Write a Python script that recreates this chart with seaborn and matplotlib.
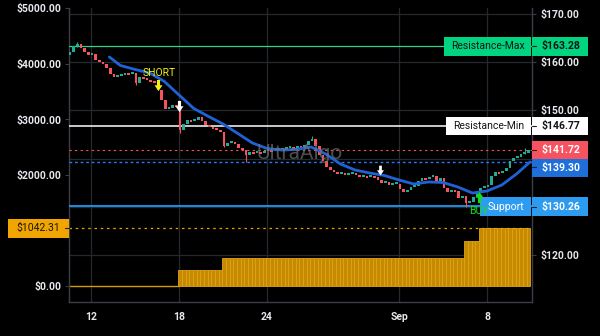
import numpy as np
import pandas as pd
import matplotlib
matplotlib.use("Agg")
import matplotlib.pyplot as plt
import matplotlib.transforms as mtransforms
from matplotlib.patches import Rectangle
from matplotlib.lines import Line2D
from matplotlib.path import Path
import seaborn as sns

# ---------------- data ----------------
candle_start_day = 10.57
candle_step_day = 0.25
first_open = 161.5
closes = [
    162.12, 163.36, 163.78, 162.95, 162.12, 161.49, 161.60, 160.46, 160.04, 159.63,
    158.80, 157.55, 156.93, 157.14, 157.34, 157.76, 157.55, 157.76, 155.68, 156.93,
    156.72, 156.31, 156.10, 155.68, 154.23, 152.16, 150.29, 150.50, 151.12, 150.91,
    145.93, 147.18, 148.01, 147.80, 148.01, 148.63, 147.80, 146.97, 146.56, 146.35,
    145.93, 145.52, 142.61, 143.24, 143.40, 143.03, 142.20, 141.78, 140.75, 141.37,
    141.16, 141.37, 141.16, 141.58, 141.78, 141.60, 142.20, 141.78, 141.99, 142.20,
    142.41, 142.30, 142.61, 142.50, 142.82, 143.65, 144.07, 142.61, 140.75, 139.50,
    138.26, 137.63, 137.22, 136.80, 137.01, 136.60, 136.80, 137.01, 136.60, 136.18,
    136.39, 136.18, 136.39, 136.18, 135.56, 134.94, 135.10, 134.52, 134.70, 134.73,
    133.69, 133.07, 133.49, 134.11, 134.32, 135.35, 135.98, 135.80, 136.18, 136.39,
    135.35, 135.98, 133.90, 133.07, 133.49, 133.28, 131.83, 132.24, 130.79, 131.00,
    132.03, 133.07, 133.90, 134.11, 134.52, 136.39, 137.22, 137.00, 137.43, 138.05,
    139.50, 140.12, 140.33, 140.95, 141.16, 141.72,
]
# notable wicks: candle index, low, high
wick_idx = [2, 18, 30, 42, 48, 66, 108, 124]
wick_low = [163.2, 155.3, 145.3, 142.4, 139.3, 143.8, 130.0, 140.9]
wick_high = [164.1, 157.0, 150.8, 145.6, 141.6, 144.6, 131.3, 142.1]

ma_days = [13.25, 14, 15, 16, 17, 18, 19, 20, 21, 22, 23, 24, 25, 26, 27, 28, 29,
           30, 31, 32, 33, 34, 35, 36, 37, 38, 39, 40, 41, 41.93]
ma_vals = [161.08, 159.32, 158.49, 157.76, 156.00, 153.20, 150.41, 148.75, 147.18,
           145.22, 143.24, 142.10, 141.78, 141.89, 142.41, 140.95, 138.88, 137.63,
           137.01, 136.49, 135.56, 134.73, 135.15, 135.04, 134.11, 132.86, 133.28,
           134.52, 136.80, 139.30]

equity_step_days = [10.5, 18.0, 21.0, 37.57, 38.52]
equity_step_vals = [0.0, 292.0, 508.0, 813.0, 1042.31]
equity_last = 1042.31

resistance_max = 163.28
resistance_min = 146.77
last_price = 141.72
ma_last = 139.30
support = 130.26

xtick_pos = [12, 18, 24, 33, 39]
xtick_labels = ["12", "18", "24", "Sep", "8"]
right_ticks = [120, 130, 140, 150, 160, 170]
left_ticks = [0, 1000, 2000, 3000, 4000, 5000]

short_day, short_price = 16.57, 155.27
exit1_day, exit1_price = 18.0, 150.92
exit2_day, exit2_price = 31.70, 137.53
buy_day, buy_price = 38.45, 131.93

# ---------------- style ----------------
BG = "#000000"
GRID = "#26282f"
SPINE = "#3a3d47"
TXT = "#e6e8ee"
UP = "#22ab94"
DOWN = "#f7525f"

sns.set_style("dark", rc={"axes.facecolor": BG, "figure.facecolor": BG,
                          "grid.color": GRID, "axes.edgecolor": SPINE})
plt.rcParams["font.family"] = ["Roboto", "DejaVu Sans"]

fig = plt.figure(figsize=(6.0, 3.36), dpi=100)
fig.patch.set_facecolor(BG)
W, H = 600.0, 336.0
ax = fig.add_axes([69 / W, (H - 302) / H, (532 - 69) / W, (302 - 8) / H])
ax.set_facecolor(BG)
ax2 = ax.twinx()
ax2.patch.set_visible(False)

XMIN, XMAX = 10.5, 42.06
R0, R1 = 110.25, 171.24
ax.set_xlim(XMIN, XMAX)
ax.set_ylim(-282, 5005)
ax2.set_ylim(R0, R1)

# ---- grid (drawn on the lower axes so the equity bars cover it) ----
for v in right_ticks:
    f = (v - R0) / (R1 - R0)
    ax.plot([0, 1], [f, f], transform=ax.transAxes, color=GRID, lw=0.9, zorder=0.5)

# ---- equity bars (left axis) ----
n = len(closes)
days = np.array([candle_start_day + candle_step_day * i for i in range(n)])
idx = np.searchsorted(equity_step_days, days, side="right") - 1
eq = np.array(equity_step_vals)[np.clip(idx, 0, None)]
mask = eq > 0
ax.bar(days[mask], eq[mask], width=candle_step_day, color="#c68a00",
       edgecolor="#e2a317", linewidth=0.6, zorder=2)
ax.hlines(0, XMIN, equity_step_days[1], color="#d99a00", lw=1.0, zorder=2)
ax.axhline(equity_last, color="#e6a100", lw=0.9, ls=(0, (2, 3)), zorder=2)

# ---- candles (right axis) ----
opens = np.array([first_open] + closes[:-1])
cl = np.array(closes)
body = cl - opens
hgt = np.where(np.abs(body) < 0.35, np.where(body >= 0, 0.35, -0.35), body)
cols = np.where(body >= 0, UP, DOWN)
wd = days[wick_idx]
ax2.vlines(wd, wick_low, wick_high, colors=cols[wick_idx], lw=0.8, zorder=4)
ax2.bar(days, hgt, bottom=opens, width=candle_step_day * 0.72, color=cols,
        linewidth=0, zorder=4)

# ---- moving average ----
sns.lineplot(x=ma_days, y=ma_vals, ax=ax2, color="#1f62d6", lw=2.0, zorder=5,
             sort=False)

# ---- levels ----
ax2.axhline(resistance_max, color="#2fd584", lw=0.9, zorder=3)
ax2.axhline(resistance_min, color="#ffffff", lw=1.1, zorder=3)
ax2.axhline(support, color="#2196f3", lw=1.3, zorder=3)
ax2.axhline(last_price, color=DOWN, lw=0.8, ls=(0, (2, 3)), zorder=3)
ax2.axhline(ma_last, color="#2979ff", lw=1.0, ls=(0, (2, 2)), zorder=3)

# ---- ticks ----
ax.set_xticks(xtick_pos)
ax.set_xticklabels(xtick_labels)
ax.grid(axis="x", color=GRID, lw=0.9)
ax.grid(axis="y", visible=False)
ax2.set_yticks(right_ticks)
ax2.set_yticklabels(["$%.2f" % v if v not in (130, 140) else "" for v in right_ticks])
ax2.grid(False)
ax.set_yticks(left_ticks)
ax.set_yticklabels(["$%.2f" % v if v != 1000 else "" for v in left_ticks])
ax.set_axisbelow(True)

for a in (ax, ax2):
    a.spines["top"].set_visible(False)
    for s in ("left", "right", "bottom"):
        a.spines[s].set_color(SPINE)
        a.spines[s].set_linewidth(0.9)
ax.tick_params(axis="x", colors=SPINE, labelcolor=TXT, length=3, pad=4, labelsize=7.5)
ax.tick_params(axis="y", colors=SPINE, labelcolor=TXT, length=3, pad=2.6,
               labelsize=7.5, left=True)
ax2.tick_params(axis="y", colors=SPINE, labelcolor=TXT, length=3, pad=3.3,
                labelsize=7.5, right=True)
for lab in ax.get_xticklabels() + ax.get_yticklabels() + ax2.get_yticklabels():
    lab.set_fontweight("bold")
ax.set_xlabel("")
ax2.set_ylabel("")

# ---- signal arrows (custom markers) ----
down_arrow = Path([(-0.14, 0.5), (0.14, 0.5), (0.14, 0.02), (0.36, 0.02), (0.0, -0.5),
                   (-0.36, 0.02), (-0.14, 0.02), (-0.14, 0.5)], closed=True)
up_arrow = Path([(x, -y) for x, y in down_arrow.vertices], closed=True)
ax2.plot([short_day], [short_price], marker=down_arrow, ms=8, color="#f2f20a",
         mec="none", ls="none", zorder=7)
ax2.plot([exit1_day], [exit1_price], marker=down_arrow, ms=8, color="#ffffff",
         mec="none", ls="none", zorder=7)
ax2.plot([exit2_day], [exit2_price], marker=down_arrow, ms=7, color="#ffffff",
         mec="none", ls="none", zorder=7)
ax2.text(short_day + 0.05, 157.76, "SHORT", color="#f2f20a", fontsize=7.5,
         ha="center", va="center", zorder=7)

ax2.text(0.499, 0.505, "UltraAlgo", transform=ax2.transAxes, fontsize=15,
         color="#777777", alpha=0.65, ha="center", va="center", zorder=8)

# ---- label boxes ----
tr_r = mtransforms.blended_transform_factory(fig.transFigure, ax2.transData)
tr_l = mtransforms.blended_transform_factory(fig.transFigure, ax.transData)
PPU_R = 4.82
PPU_L = 0.0556

def box(tr, ppu, x0, x1, yval, text, fc, tc, hpx=19, shift_px=0.0, weight="normal",
        ha="center", tx=None, dash_x=None):
    yc = yval - shift_px / ppu
    h = hpx / ppu
    fig.add_artist(Rectangle((x0 / W, yc - h / 2), (x1 - x0) / W, h, transform=tr,
                             facecolor=fc, edgecolor="none", zorder=20))
    xt = (x0 + x1) / 2 if tx is None else tx
    fig.text(xt / W, yc, text, transform=tr, color=tc, fontsize=7.5,
             fontweight=weight, ha=ha, va="center", zorder=21)
    if dash_x is not None:
        fig.add_artist(Line2D([dash_x[0] / W, dash_x[1] / W], [yc, yc], transform=tr,
                              color="#1c1f26", lw=0.8, zorder=22))

GREEN = "#00d47e"
box(tr_r, PPU_R, 444, 531, resistance_max, "Resistance-Max", GREEN, "#111418")
box(tr_r, PPU_R, 532, 588, resistance_max, "$%.2f" % resistance_max, GREEN, "#111418",
    weight="bold", ha="left", tx=541, dash_x=(532, 536))
box(tr_r, PPU_R, 446, 531, resistance_min, "Resistance-Min", "#ffffff", "#111418", hpx=18)
box(tr_r, PPU_R, 532, 588, resistance_min, "$%.2f" % resistance_min, "#ffffff", "#111418",
    hpx=18, weight="bold", ha="left", tx=541, dash_x=(532, 536))
box(tr_r, PPU_R, 532, 588, ma_last, "$%.2f" % ma_last, "#1e6fd9", "#ffffff",
    shift_px=5.5, weight="bold", ha="left", tx=541, dash_x=(532, 536))
box(tr_r, PPU_R, 532, 588, last_price, "$%.2f" % last_price, DOWN, "#ffffff",
    hpx=18, weight="bold", ha="left", tx=541, dash_x=(532, 536))
box(tr_r, PPU_R, 480, 531, support, "Support", "#2d9bf0", "#ffffff", shift_px=1.0)
box(tr_r, PPU_R, 532, 588, support, "$%.2f" % support, "#2d9bf0", "#ffffff",
    shift_px=1.0, weight="bold", ha="left", tx=541, dash_x=(532, 536))
box(tr_l, PPU_L, 8, 69, equity_last, "$%.2f" % equity_last, "#f0a500", "#1a1405",
    dash_x=(65, 69))

# BUY marker drawn above the Support label like the reference
buy_marker = Line2D([478.5 / W], [buy_price], transform=tr_r, marker=up_arrow, ms=8,
                    color="#10e010", mec="none", ls="none")
buy_marker.set_zorder(30)
fig.add_artist(buy_marker)
buy_txt = fig.text(478.5 / W, 129.13, "BUY", transform=tr_r, color="#12e612",
                   fontsize=7.5, ha="center", va="center")
buy_txt.set_zorder(30)

fig.savefig("out.png", dpi=100, facecolor=BG)
